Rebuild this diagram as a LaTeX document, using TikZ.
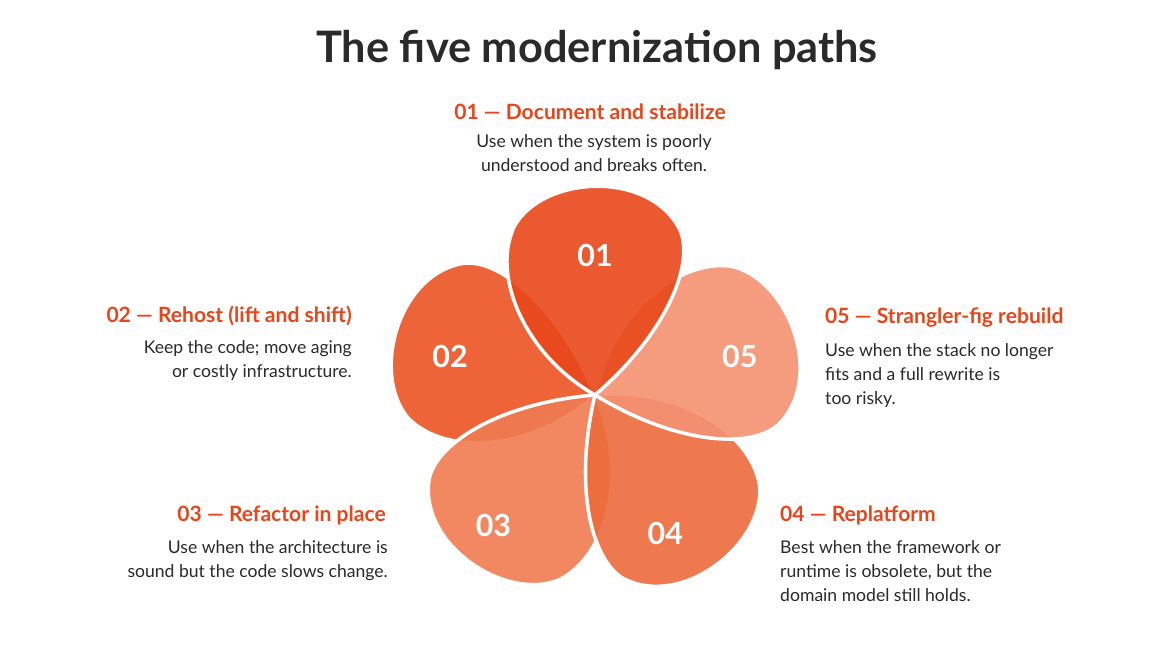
\documentclass[tikz,border=0pt]{standalone}
\usepackage{fontspec}
\setmainfont{Lato}
\definecolor{hdorange}{HTML}{E8461A}
\definecolor{bodytext}{HTML}{2A2A2A}
\definecolor{pA}{HTML}{E8481A}
\definecolor{pB}{HTML}{EC5424}
\definecolor{pC}{HTML}{F07C52}
\definecolor{pD}{HTML}{EE6B3C}
\definecolor{pE}{HTML}{F49272}
\tikzset{
  heading/.style={font=\fontsize{18}{22}\selectfont\bfseries, text=hdorange, inner sep=0pt},
  body/.style={font=\fontsize{15}{20.5}\selectfont, text=bodytext, inner sep=0pt},
  petalnum/.style={font=\fontsize{26}{26}\selectfont\bfseries, text=white},
  petal/.style={draw=white, line width=3pt, fill opacity=0.9}
}
\newcommand{\petalpath}{(0,0) .. controls (-70,40) and (-105,120) .. (-80,170)
  .. controls (-50,220) and (55,225) .. (85,165) .. controls (100,130) and (70,60) .. (0,0)}
\begin{document}
\begin{tikzpicture}[x=0.03cm, y=0.03cm]
    \useasboundingbox (0,0) rectangle (1170,658);
    \fill[white] (0,0) rectangle (1170,658);

    \node[font=\fontsize{37}{37}\selectfont\bfseries, text=bodytext] (title) at (597,608) {The five modernization paths};

    % petals
    \begin{scope}[shift={(595,263)}]
        \fill[petal, fill=pB] [rotate=72] \petalpath;
        \fill[petal, fill=pC] [rotate=144] \petalpath;
        \fill[petal, fill=pD] [rotate=216] \petalpath;
        \fill[petal, fill=pE] [rotate=288] \petalpath;
        \fill[petal, fill=pA] \petalpath;
        \node[petalnum] (n01) at (90:140) {01};
        \node[petalnum] (n02) at (165:150) {02};
        \node[petalnum] (n03) at (232:165) {03};
        \node[petalnum] (n04) at (297:155) {04};
        \node[petalnum] (n05) at (15:150) {05};
    \end{scope}

    % labels
    \node[heading] (h01) at (590,546) {01 — Document and stabilize};
    \node[body, align=center, anchor=north] (b01) at (594,524) {Use when the system is poorly\\understood and breaks often.};

    \node[heading, anchor=east] (h02) at (352,342) {02 — Rehost (lift and shift)};
    \node[body, align=right, anchor=north east] (b02) at (352,318) {Keep the code; move aging\\or costly infrastructure.};

    \node[heading, anchor=east] (h03) at (386,143) {03 — Refactor in place};
    \node[body, align=right, anchor=north east] (b03) at (388,118) {Use when the architecture is\\sound but the code slows change.};

    \node[heading, anchor=west] (h04) at (780,143) {04 — Replatform};
    \node[body, align=left, anchor=north west] (b04) at (780,118) {Best when the framework or\\runtime is obsolete, but the\\domain model still holds.};

    \node[heading, anchor=west] (h05) at (825,340) {05 — Strangler-fig rebuild};
    \node[body, align=left, anchor=north west] (b05) at (825,315) {Use when the stack no longer\\fits and a full rewrite is\\too risky.};
\end{tikzpicture}
\end{document}
